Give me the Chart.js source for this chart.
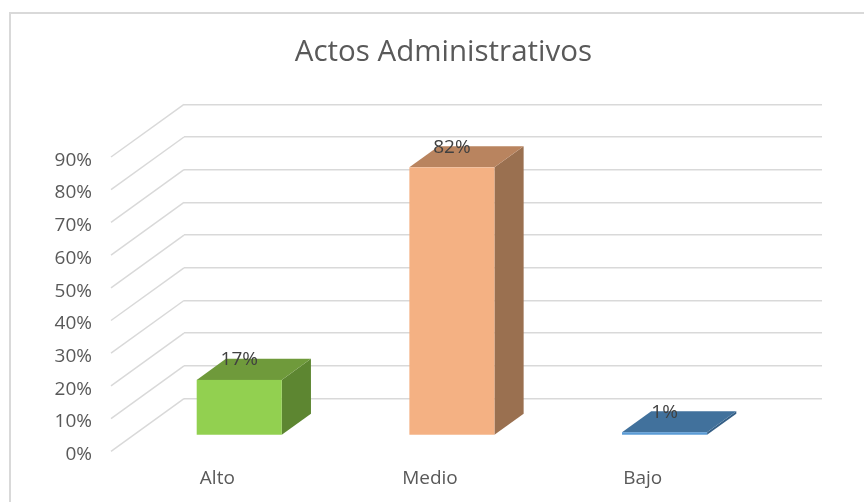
<!DOCTYPE html>
<html>
<head>
<meta charset="utf-8">
<script src="https://cdn.jsdelivr.net/npm/chart.js@4/dist/chart.umd.min.js"></script>
<style>
  html, body { margin: 0; padding: 0; background: #fff; overflow: hidden; }
  #frame { position: absolute; left: 9px; top: 12px; width: 900px; height: 600px; border: 2px solid #d9d9d9; }
  #c { position: absolute; left: 0; top: 0; }
</style>
</head>
<body>
<div id="frame"></div>
<canvas id="c" width="864" height="502"></canvas>
<script>
// Actos Administrativos — 3D column chart, Excel look.
const TITLE = 'Actos Administrativos';
const CATEGORIES = ['Alto', 'Medio', 'Bajo'];
const VALUES = [17, 82, 1];
const Y_MAX = 90;
const Y_STEP = 10;

const FRONT = ['#92D050', '#F4B183', '#5B9BD5'];
const TOP = ['#6F9A3B', '#B9845F', '#41719C'];
const SIDE = ['#5D8631', '#9A7050', '#355F86'];

// depth vector (back wall -> front edge of floor) and the slab the bars sit in
const DX = -73, DY = 52.7;
const FRONT_AT = 0.7, BACK_AT = 0.3;
const GRID = '#d9d9d9';
const FONT = "'Open Sans', sans-serif";

const depth3d = {
  id: 'depth3d',
  beforeDatasetsDraw(chart) {
    const { ctx, chartArea, scales: { y } } = chart;
    ctx.save();
    ctx.strokeStyle = GRID;
    ctx.lineWidth = 1.5;
    y.ticks.forEach((t) => {
      const py = y.getPixelForValue(t.value);
      ctx.beginPath();
      ctx.moveTo(chartArea.left, py);
      ctx.lineTo(chartArea.left + DX, py + DY);
      ctx.stroke();
    });
    ctx.restore();
  },
  afterDatasetsDraw(chart) {
    const { ctx } = chart;
    const meta = chart.getDatasetMeta(0);
    ctx.save();
    meta.data.forEach((bar, i) => {
      const w = bar.width;
      const fx = FRONT_AT * DX, fy = FRONT_AT * DY;
      const bx = BACK_AT * DX, by = BACK_AT * DY;
      const l = bar.x - w / 2 + fx, r = bar.x + w / 2 + fx;
      const t = bar.y + fy, b = bar.base + fy;
      const ox = bx - fx, oy = by - fy;
      // right side
      ctx.fillStyle = SIDE[i];
      ctx.beginPath();
      ctx.moveTo(r, t); ctx.lineTo(r + ox, t + oy); ctx.lineTo(r + ox, b + oy); ctx.lineTo(r, b);
      ctx.closePath(); ctx.fill();
      // top
      ctx.fillStyle = TOP[i];
      ctx.beginPath();
      ctx.moveTo(l, t); ctx.lineTo(r, t); ctx.lineTo(r + ox, t + oy); ctx.lineTo(l + ox, t + oy);
      ctx.closePath(); ctx.fill();
      // front
      ctx.fillStyle = FRONT[i];
      ctx.fillRect(l, t, r - l, b - t);
      // value label, sitting on the back top edge
      ctx.fillStyle = '#404040';
      ctx.font = `19px ${FONT}`;
      ctx.textAlign = 'center';
      ctx.textBaseline = 'middle';
      ctx.fillText(VALUES[i] + '%', bar.x + fx, t + oy + 1);
    });
    ctx.restore();
  },
  afterDraw(chart) {
    // title centred on the chart frame (Chart.js would centre it on the padded box)
    const { ctx } = chart;
    ctx.save();
    ctx.fillStyle = '#595959';
    ctx.font = `29.5px ${FONT}`;
    ctx.textAlign = 'center';
    ctx.textBaseline = 'middle';
    ctx.fillText(TITLE, 443.4, 53);
    ctx.restore();
  },
};

new Chart(document.getElementById('c'), {
  type: 'bar',
  data: {
    labels: CATEGORIES,
    datasets: [{ data: VALUES, backgroundColor: 'rgba(0,0,0,0)', borderWidth: 0, barPercentage: 0.4, categoryPercentage: 1 }],
  },
  options: {
    responsive: false,
    animation: false,
    devicePixelRatio: 1,
    layout: { padding: { left: 30, right: 42, top: 104.3, bottom: 0 } },
    plugins: {
      legend: { display: false },
      tooltip: { enabled: false },
      title: { display: false },
    },
    scales: {
      x: {
        grid: { display: false },
        border: { display: false },
        ticks: { color: '#595959', font: { family: FONT, size: 19 }, padding: 61, labelOffset: DX },
        afterFit(s) { s.height = 102.7; },
      },
      y: {
        min: 0,
        max: Y_MAX,
        grid: { color: GRID, lineWidth: 1.5, drawTicks: false },
        border: { display: false },
        ticks: {
          stepSize: Y_STEP,
          color: '#595959',
          font: { family: FONT, size: 19 },
          padding: 92,
          labelOffset: 56,
          callback: (v) => v + '%',
        },
        afterFit(s) { s.width = 184 - 30; },
      },
    },
  },
  plugins: [depth3d],
});
</script>
</body>
</html>
